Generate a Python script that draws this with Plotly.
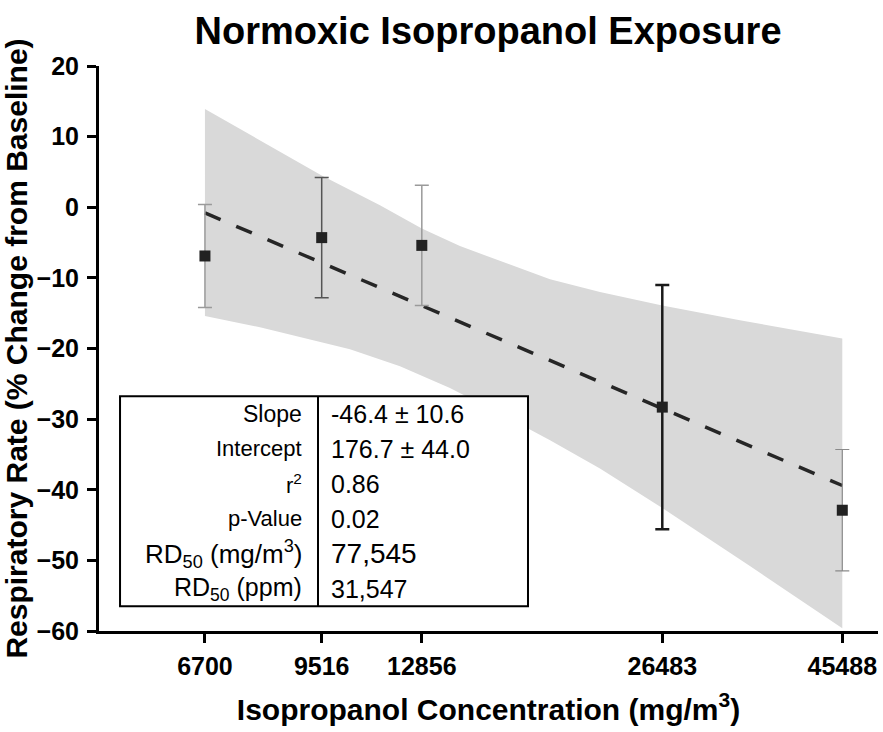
import plotly.graph_objects as go

# ---- data ----
conc = [6700, 9516, 12856, 26483, 45488]
tick_labels = ["6700", "9516", "12856", "26483", "45488"]
resp_mean = [-6.9, -4.3, -5.4, -28.3, -42.9]
resp_err = [7.3, 8.5, 8.5, 17.3, 8.6]

fit_x = [6700, 45488]
fit_y = [-0.8, -39.4]

band_upper_x = [6700, 7905, 9516, 11337, 12856, 14416, 16260, 18900, 21960, 26483, 33440, 45488]
band_upper_y = [13.9, 9.5, 4.5, 0.3, -3.0, -5.5, -7.6, -10.2, -12.0, -13.9, -16.0, -18.6]
band_lower_x = [6700, 7905, 8914, 10360, 12040, 13990, 16260, 18900, 21960, 26483, 34460, 45488]
band_lower_y = [-15.4, -17.0, -18.4, -20.1, -22.5, -25.6, -29.2, -33.0, -37.0, -42.6, -50.8, -59.6]

table_labels = ["Slope", "Intercept", "r<sup>2</sup>", "p-Value",
                "RD<sub>50</sub> (mg/m<sup>3</sup>)", "RD<sub>50</sub> (ppm)"]
table_values = ["-46.4 ± 10.6", "176.7 ± 44.0", "0.86", "0.02", "77,545", "31,547"]

# ---- styles ----
err_colors = ["#9a9a9a", "#555555", "#9a9a9a", "#1a1a1a", "#8a8a8a"]
err_widths = [1.5, 1.5, 1.5, 2.5, 1.2]
label_sizes = [23, 22, 22, 22, 26, 25]
value_sizes = [25, 25, 25, 25, 28, 25]
FONT = "Liberation Sans, Arial, sans-serif"

fig = go.Figure()

# confidence band
fig.add_trace(go.Scatter(
    x=band_upper_x + band_lower_x[::-1],
    y=band_upper_y + band_lower_y[::-1],
    fill="toself", fillcolor="#d9d9d9", mode="lines",
    line=dict(width=0, color="#d9d9d9"), hoverinfo="skip", showlegend=False))

# regression line
fig.add_trace(go.Scatter(
    x=fit_x, y=fit_y, mode="lines",
    line=dict(color="#262626", width=3.5, dash="17px,17px"),
    showlegend=False))

# points with error bars
for i in range(len(conc)):
    fig.add_trace(go.Scatter(
        x=[conc[i]], y=[resp_mean[i]], mode="markers",
        marker=dict(symbol="square", size=11, color="#222222"),
        error_y=dict(type="data", array=[resp_err[i]], visible=True,
                     color=err_colors[i], thickness=err_widths[i], width=7),
        showlegend=False))

# table box
x0, x1, xd = 0.027, 0.5507, 0.2811
y0, y1 = 0.0437, 0.4156
fig.add_shape(type="rect", xref="paper", yref="paper", x0=x0, x1=x1, y0=y0, y1=y1,
              fillcolor="white", line=dict(color="black", width=2), layer="above")
fig.add_shape(type="line", xref="paper", yref="paper", x0=xd, x1=xd, y0=y0, y1=y1,
              line=dict(color="black", width=2), layer="above")

n = len(table_labels)
row_h = (y1 - y0) / n
for i, (lab, val) in enumerate(zip(table_labels, table_values)):
    yc = y1 - row_h * (i + 0.5)
    fig.add_annotation(xref="paper", yref="paper", x=xd - 0.018, y=yc,
                       xanchor="right", yanchor="middle", text=lab, showarrow=False,
                       font=dict(family=FONT, size=label_sizes[i], color="black"))
    fig.add_annotation(xref="paper", yref="paper", x=xd + 0.014, y=yc,
                       xanchor="left", yanchor="middle", text=val, showarrow=False,
                       font=dict(family=FONT, size=value_sizes[i], color="black"))

fig.update_layout(
    width=883, height=732,
    margin=dict(l=99, r=5, t=66, b=101),
    plot_bgcolor="white", paper_bgcolor="white",
    font=dict(family=FONT, color="black"),
    title=dict(text="Normoxic Isopropanol Exposure", xref="container", yref="container",
               x=0.5527, y=0.958, xanchor="center", yanchor="middle",
               font=dict(family=FONT, size=38, color="black", weight="bold")),
    xaxis=dict(type="log", range=[3.6878, 4.7045], tickvals=conc, ticktext=tick_labels,
               showline=True, linecolor="black", linewidth=3, ticks="outside",
               ticklen=9, tickwidth=3, tickcolor="black", showgrid=False, zeroline=False,
               tickfont=dict(family=FONT, size=25, color="black", weight="bold"),
               ticklabelstandoff=2,
               title=dict(text="Isopropanol Concentration (mg/m<sup>3</sup>)",
                          font=dict(family=FONT, size=30, color="black", weight="bold"),
                          standoff=20)),
    yaxis=dict(range=[-60, 20], dtick=10, tick0=0,
               showline=True, linecolor="black", linewidth=3, ticks="outside",
               ticklen=9, tickwidth=3, tickcolor="black", showgrid=False, zeroline=False,
               tickfont=dict(family=FONT, size=25, color="black", weight="bold"),
               ticklabelstandoff=3,
               title=dict(text="Respiratory Rate (% Change from Baseline)",
                          font=dict(family=FONT, size=30, color="black", weight="bold"),
                          standoff=2)),
)

fig.write_html("out.html")
